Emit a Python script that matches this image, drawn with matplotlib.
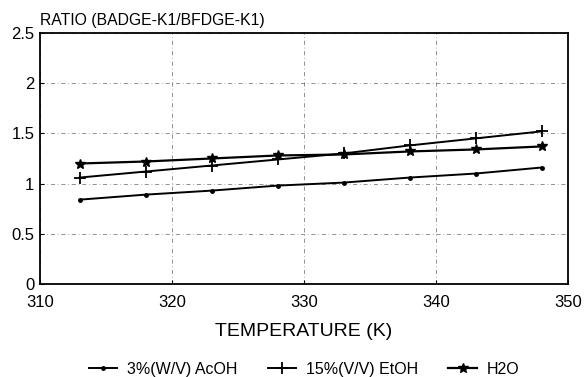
import matplotlib
matplotlib.use("Agg")
import matplotlib.pyplot as plt

temperature = [313, 318, 323, 328, 333, 338, 343, 348]
acoh = [0.84, 0.89, 0.93, 0.98, 1.01, 1.06, 1.10, 1.16]
etoh = [1.06, 1.12, 1.18, 1.24, 1.30, 1.38, 1.45, 1.52]
h2o = [1.20, 1.22, 1.25, 1.28, 1.29, 1.32, 1.34, 1.37]

labels = ["3%(W/V) AcOH", "15%(V/V) EtOH", "H2O"]

plt.rcParams["font.family"] = ["Liberation Sans", "DejaVu Sans"]

fig = plt.figure(figsize=(5.84, 3.77), dpi=100)
ax = fig.add_axes([0.0685, 0.2467, 0.904, 0.6658])

ax.plot(temperature, acoh, color="black", lw=1.4, marker=".", ms=5, label=labels[0])
ax.plot(temperature, etoh, color="black", lw=1.4, marker="+", ms=8, mew=1.3, label=labels[1])
ax.plot(temperature, h2o, color="black", lw=1.6, marker="*", ms=7.5, label=labels[2])

ax.set_xlim(310, 350)
ax.set_ylim(0, 2.5)
ax.set_xticks([310, 320, 330, 340, 350])
ax.set_yticks([0, 0.5, 1, 1.5, 2, 2.5])
ax.set_yticklabels(["0", "0.5", "1", "1.5", "2", "2.5"])
ax.grid(True, color="#666666", linestyle=(0, (6, 4, 1, 4)), lw=0.5)
ax.tick_params(direction="in", length=3, labelsize=12)
ax.tick_params(axis="x", pad=8)
ax.tick_params(axis="y", pad=4)
for s in ax.spines.values():
    s.set_linewidth(1.3)

ax.set_xlabel("TEMPERATURE (K)", fontsize=14, labelpad=9)
ax.text(0.0, 1.02, "RATIO (BADGE-K1/BFDGE-K1)", transform=ax.transAxes,
        fontsize=11.3, ha="left", va="bottom")

ax.legend(loc="center", bbox_to_anchor=(0.5, -0.34), ncol=3, frameon=False,
          fontsize=11.5, handlelength=1.8, columnspacing=1.9, handletextpad=0.6)

fig.savefig("out.png", dpi=100)
